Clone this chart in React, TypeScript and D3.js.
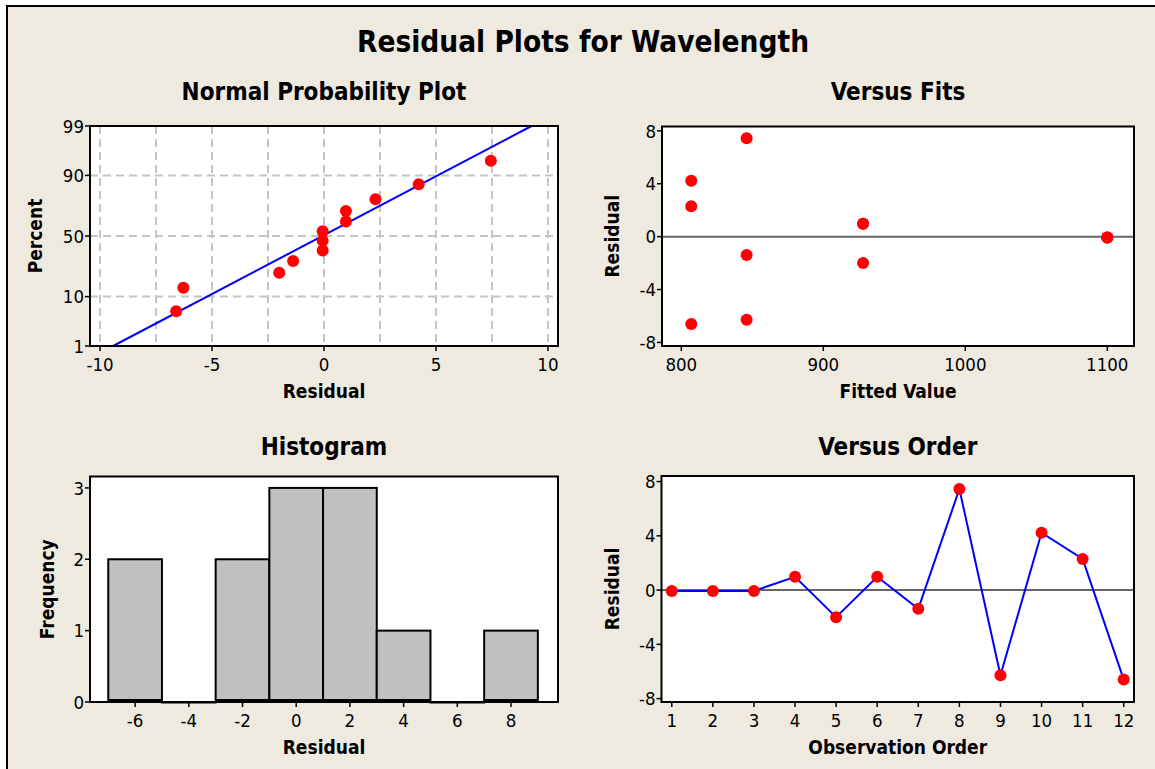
import React from "react";
import * as d3 from "d3";

// ---------- data ----------
const observation = [1, 2, 3, 4, 5, 6, 7, 8, 9, 10, 11, 12];
const residuals = [-0.06, -0.06, -0.06, 0.98, -2.0, 0.98, -1.38, 7.45, -6.28, 4.23, 2.3, -6.6];
const fittedValues = [1100, 1100, 1100, 928, 928, 928, 846, 846, 846, 807, 807, 807];
// plotting positions (percent) of the sorted residuals
const probPercents = [5.6, 13.7, 21.8, 29.8, 37.9, 46.0, 54.0, 62.1, 70.2, 78.2, 86.3, 94.4];
// fitted normal line end points (residual, percent)
const fitLineResid = [-9.42, 9.27];
const fitLinePct = [1, 99];
const histMids = [-6, -4, -2, 0, 2, 4, 6, 8];
const histCounts = [2, 0, 2, 3, 3, 1, 0, 1];
const histBinWidth = 2;

const npXTicks = [-10, -5, 0, 5, 10];
const npXGrid = [-10, -7.5, -5, -2.5, 0, 2.5, 5, 7.5, 10];
const npYTicks = [1, 10, 50, 90, 99];
const npYGrid = [10, 50, 90];
const fitsXTicks = [800, 900, 1000, 1100];
const residTicks = [-8, -4, 0, 4, 8];
const histXTicks = [-6, -4, -2, 0, 2, 4, 6, 8];
const histYTicks = [0, 1, 2, 3];

// ---------- helpers ----------
function invNorm(p: number): number {
  const a = [-3.969683028665376e1, 2.209460984245205e2, -2.759285104469687e2, 1.38357751867269e2, -3.066479806614716e1, 2.506628277459239];
  const b = [-5.447609879822406e1, 1.615858368580409e2, -1.556989798598866e2, 6.680131188771972e1, -1.328068155288572e1];
  const c = [-7.784894002430293e-3, -3.223964580411365e-1, -2.400758277161838, -2.549732539343734, 4.374664141464968, 2.938163982698783];
  const dd = [7.784695709041462e-3, 3.224671290700398e-1, 2.445134137142996, 3.754408661907416];
  const pl = 0.02425;
  let q, r;
  if (p < pl) {
    q = Math.sqrt(-2 * Math.log(p));
    return (((((c[0] * q + c[1]) * q + c[2]) * q + c[3]) * q + c[4]) * q + c[5]) / ((((dd[0] * q + dd[1]) * q + dd[2]) * q + dd[3]) * q + 1);
  } else if (p <= 1 - pl) {
    q = p - 0.5;
    r = q * q;
    return ((((((a[0] * r + a[1]) * r + a[2]) * r + a[3]) * r + a[4]) * r + a[5]) * q) / (((((b[0] * r + b[1]) * r + b[2]) * r + b[3]) * r + b[4]) * r + 1);
  } else {
    q = Math.sqrt(-2 * Math.log(1 - p));
    return -(((((c[0] * q + c[1]) * q + c[2]) * q + c[3]) * q + c[4]) * q + c[5]) / ((((dd[0] * q + dd[1]) * q + dd[2]) * q + dd[3]) * q + 1);
  }
}

const FONT = "'DejaVu Sans Condensed', 'DejaVu Sans', sans-serif";
const BG = "#EEEAE0";
const TICK_FS = 18.5;
const AXT_FS = 19;
const SUB_FS = 24;

type Box = { l: number; r: number; t: number; b: number };

const P1: Box = { l: 90, r: 558, t: 126, b: 346 };
const P2: Box = { l: 662, r: 1134, t: 126.5, b: 346 };
const P3: Box = { l: 90, r: 558, t: 476.5, b: 702 };
const P4: Box = { l: 661.5, r: 1134, t: 476, b: 702 };

function Frame({ box }: { box: Box }) {
  return (
    <rect x={box.l} y={box.t} width={box.r - box.l} height={box.b - box.t} fill="none" stroke="#000" strokeWidth={2} />
  );
}

function XAxis({ box, ticks, scale }: { box: Box; ticks: number[]; scale: (v: number) => number }) {
  return (
    <g>
      {ticks.map((t) => (
        <g key={t}>
          <line x1={scale(t)} x2={scale(t)} y1={box.b} y2={box.b + 5} stroke="#000" strokeWidth={1.5} />
          <text x={scale(t)} y={box.b + 25} textAnchor="middle" fontFamily={FONT} fontSize={TICK_FS} fill="#000">
            {String(t)}
          </text>
        </g>
      ))}
    </g>
  );
}

function YAxis({ box, ticks, scale }: { box: Box; ticks: number[]; scale: (v: number) => number }) {
  return (
    <g>
      {ticks.map((t) => (
        <g key={t}>
          <line x1={box.l - 5} x2={box.l} y1={scale(t)} y2={scale(t)} stroke="#000" strokeWidth={1.5} />
          <text x={box.l - 6} y={scale(t)} dy="0.36em" textAnchor="end" fontFamily={FONT} fontSize={TICK_FS} fill="#000">
            {String(t)}
          </text>
        </g>
      ))}
    </g>
  );
}

function Titles({ box, sub, subY, xt, yt, ytx }: { box: Box; sub: string; subY: number; xt: string; yt: string; ytx: number }) {
  const cx = (box.l + box.r) / 2;
  const cy = (box.t + box.b) / 2;
  return (
    <g fontFamily={FONT} fontWeight="bold" fill="#000">
      <text x={cx} y={subY} textAnchor="middle" fontSize={SUB_FS}>{sub}</text>
      <text x={cx} y={box.b + 52} textAnchor="middle" fontSize={AXT_FS}>{xt}</text>
      <text transform={`translate(${ytx},${cy}) rotate(-90)`} textAnchor="middle" dy="0.36em" fontSize={AXT_FS}>{yt}</text>
    </g>
  );
}

export default function App() {
  // Panel 1: normal probability plot
  const x1 = d3.scaleLinear().domain([-10.45, 10.45]).range([P1.l, P1.r]);
  const z1 = d3.scaleLinear().domain([-2.3263, 2.3263]).range([P1.b, P1.t]);
  const y1 = (pct: number) => z1(invNorm(pct / 100));
  const sorted = [...residuals].sort((a, b) => a - b);
  const fitLine = d3.line<number>().x((_, i) => x1(fitLineResid[i])).y((_, i) => y1(fitLinePct[i]));

  // Panel 2: versus fits
  const x2 = d3.scaleLinear().domain([786.4, 1118.8]).range([P2.l, P2.r]);
  const y2 = d3.scaleLinear().domain([-8.27, 8.33]).range([P2.b, P2.t]);

  // Panel 3: histogram
  const x3 = d3.scaleLinear().domain([-7.68, 9.75]).range([P3.l, P3.r]);
  const y3 = d3.scaleLinear().domain([0, 3.16]).range([P3.b, P3.t]);

  // Panel 4: versus order
  const x4 = d3.scaleLinear().domain([0.75, 12.25]).range([P4.l, P4.r]);
  const y4 = d3.scaleLinear().domain([-8.25, 8.41]).range([P4.b, P4.t]);
  const orderLine = d3.line<number>().x((_, i) => x4(observation[i])).y((v) => y4(v));

  return (
    <svg width={1155} height={769} style={{ position: "absolute", left: 0, top: 0, background: "#fff" }}>
      <rect x={7} y={6} width={1200} height={800} fill={BG} stroke="#000" strokeWidth={2} />
      <text x={583} y={52} textAnchor="middle" fontFamily={FONT} fontWeight="bold" fontSize={29.5} fill="#000">
        Residual Plots for Wavelength
      </text>

      {/* Panel 1 */}
      <rect x={P1.l} y={P1.t} width={P1.r - P1.l} height={P1.b - P1.t} fill="#fff" />
      {npXGrid.map((g) => (
        <line key={"gx" + g} x1={x1(g)} x2={x1(g)} y1={P1.t} y2={P1.b} stroke="#C4C4C4" strokeWidth={2} strokeDasharray="8,5" />
      ))}
      {npYGrid.map((g) => (
        <line key={"gy" + g} x1={P1.l} x2={P1.r} y1={y1(g)} y2={y1(g)} stroke="#C4C4C4" strokeWidth={2} strokeDasharray="8,5" />
      ))}
      <path d={fitLine(fitLineResid) || ""} fill="none" stroke="#0000FF" strokeWidth={2} />
      {sorted.map((v, i) => (
        <circle key={"p1" + i} cx={x1(v)} cy={y1(probPercents[i])} r={6} fill="#FF0000" />
      ))}
      <Frame box={P1} />
      <XAxis box={P1} ticks={npXTicks} scale={x1} />
      <YAxis box={P1} ticks={npYTicks} scale={y1} />
      <Titles box={P1} sub="Normal Probability Plot" subY={100} xt="Residual" yt="Percent" ytx={35} />

      {/* Panel 2 */}
      <rect x={P2.l} y={P2.t} width={P2.r - P2.l} height={P2.b - P2.t} fill="#fff" />
      <line x1={P2.l} x2={P2.r} y1={y2(0)} y2={y2(0)} stroke="#666" strokeWidth={2} />
      {residuals.map((v, i) => (
        <circle key={"p2" + i} cx={x2(fittedValues[i])} cy={y2(v)} r={6} fill="#FF0000" />
      ))}
      <Frame box={P2} />
      <XAxis box={P2} ticks={fitsXTicks} scale={x2} />
      <YAxis box={P2} ticks={residTicks} scale={y2} />
      <Titles box={P2} sub="Versus Fits" subY={100} xt="Fitted Value" yt="Residual" ytx={612} />

      {/* Panel 3 */}
      <rect x={P3.l} y={P3.t} width={P3.r - P3.l} height={P3.b - P3.t} fill="#fff" />
      {histMids.map((m, i) => (
        <rect
          key={"h" + m}
          x={x3(m - histBinWidth / 2)}
          y={y3(histCounts[i])}
          width={x3(m + histBinWidth / 2) - x3(m - histBinWidth / 2)}
          height={Math.max(0.5, y3(0) - 2 - y3(histCounts[i]))}
          fill="#C0C0C0"
          stroke="#000"
          strokeWidth={2}
        />
      ))}
      <Frame box={P3} />
      <XAxis box={P3} ticks={histXTicks} scale={x3} />
      <YAxis box={P3} ticks={histYTicks} scale={y3} />
      <Titles box={P3} sub="Histogram" subY={455} xt="Residual" yt="Frequency" ytx={47} />

      {/* Panel 4 */}
      <rect x={P4.l} y={P4.t} width={P4.r - P4.l} height={P4.b - P4.t} fill="#fff" />
      <line x1={P4.l} x2={P4.r} y1={y4(0)} y2={y4(0)} stroke="#666" strokeWidth={2} />
      <path d={orderLine(residuals) || ""} fill="none" stroke="#0000FF" strokeWidth={2} />
      {residuals.map((v, i) => (
        <circle key={"p4" + i} cx={x4(observation[i])} cy={y4(v)} r={6} fill="#FF0000" />
      ))}
      <Frame box={P4} />
      <XAxis box={P4} ticks={observation} scale={x4} />
      <YAxis box={P4} ticks={residTicks} scale={y4} />
      <Titles box={P4} sub="Versus Order" subY={455} xt="Observation Order" yt="Residual" ytx={612} />
    </svg>
  );
}
